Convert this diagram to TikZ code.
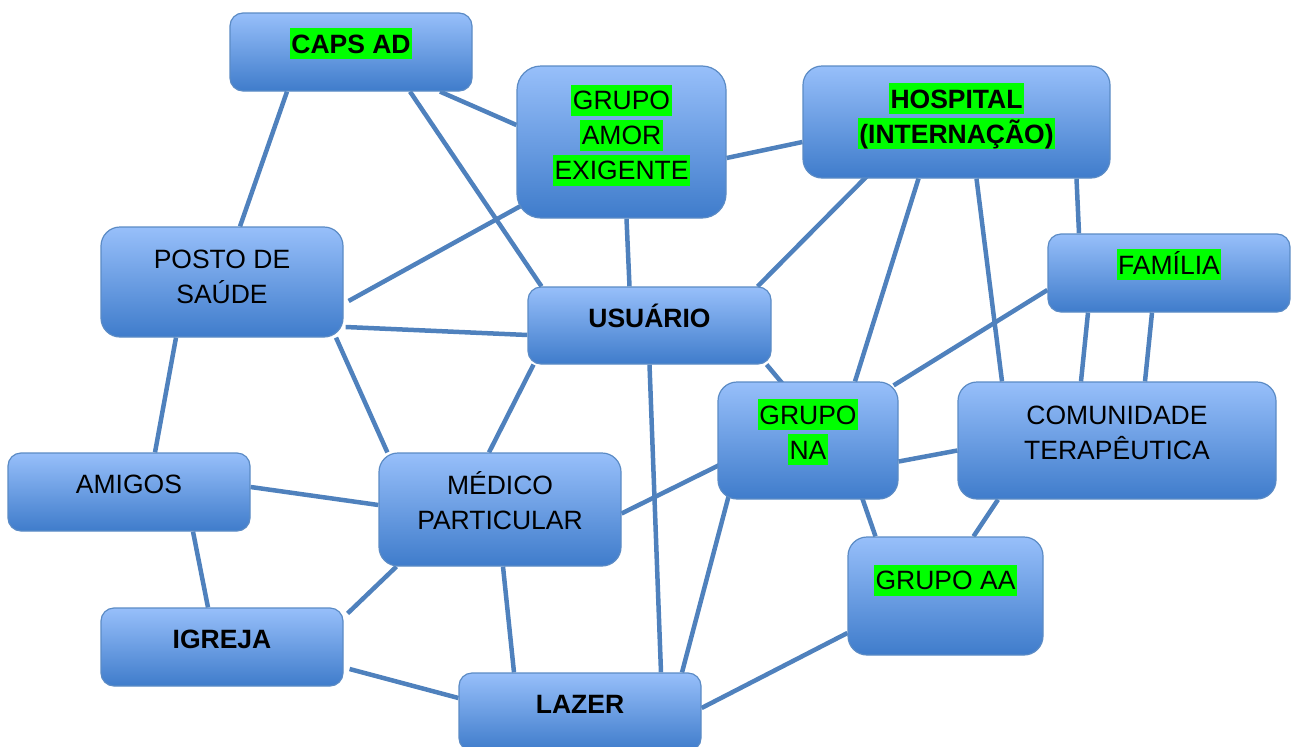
\documentclass[tikz,border=0pt]{standalone}
\usepackage{fontspec}
\setmainfont{Liberation Sans}
\usepackage{xcolor}
\usepackage{tikz}
\usetikzlibrary{backgrounds}

\definecolor{boxtop}{HTML}{97BFFA}
\definecolor{boxbot}{HTML}{3F7CCB}
\definecolor{boxline}{HTML}{5B8BC5}
\definecolor{linkblue}{HTML}{4F81BD}
\definecolor{hlgreen}{HTML}{00FF00}
\newcommand{\hl}[1]{{\setlength{\fboxsep}{0pt}\colorbox{hlgreen}{\rule[-6pt]{0pt}{31pt}\kern1.5pt#1\kern1.5pt}}}
\newcommand{\pl}[1]{\rule[-6pt]{0pt}{31pt}#1}

\begin{document}
\begin{tikzpicture}[x=1pt, y=-1pt,
  box/.style={draw=boxline, line width=1.2pt, top color=boxtop, bottom color=boxbot, inner sep=0pt, minimum width=242pt, minimum height=78pt, rounded corners=13pt},
  bigbox/.style={box, rounded corners=19pt},
  txt/.style={font=\fontsize{26.5}{35}\selectfont, align=center, inner sep=0pt},
  link/.style={draw=linkblue, line width=4.5pt}]
\useasboundingbox (0,0) rectangle (1291,747);

\node[box] (caps) at (351,52) {};
\node[bigbox, minimum width=209pt, minimum height=152pt, rounded corners=24pt] (amor) at (621.5,142) {};
\node[bigbox, minimum width=307pt, minimum height=112pt] (hosp) at (956.5,122) {};
\node[box] (fam) at (1169,273) {};
\node[bigbox, minimum height=110pt] (posto) at (222,282) {};
\node[box, minimum width=243pt, minimum height=77pt] (usu) at (649.5,325.5) {};
\node[bigbox, minimum width=180pt, minimum height=117pt] (na) at (808,440.5) {};
\node[bigbox, minimum width=318pt, minimum height=117pt] (com) at (1117,440.5) {};
\node[box] (amigos) at (129,492) {};
\node[bigbox, minimum height=113pt] (medico) at (500,509.5) {};
\node[bigbox, minimum width=195pt, minimum height=118pt] (aa) at (945.5,596) {};
\node[box] (igreja) at (222,647) {};
\node[box] (lazer) at (580,712) {};

\node[txt] (capsT) at ([yshift=8.5pt]caps.center) {\hl{\textbf{CAPS AD}}};
\node[txt] (amorT) at ([yshift=7pt]amor.center) {\hl{GRUPO}\\\hl{AMOR}\\\hl{EXIGENTE}};
\node[txt] (hospT) at ([yshift=6pt]hosp.center) {\hl{\textbf{HOSPITAL}}\\\hl{\textbf{(INTERNAÇÃO)}}};
\node[txt] (famT) at ([yshift=8.5pt]fam.center) {\hl{FAMÍLIA}};
\node[txt] (postoT) at ([yshift=6pt]posto.center) {\pl{POSTO DE}\\\pl{SAÚDE}};
\node[txt] (usuT) at ([yshift=7.5pt]usu.center) {\pl{\textbf{USUÁRIO}}};
\node[txt] (naT) at ([yshift=8.5pt]na.center) {\hl{GRUPO}\\\hl{NA}};
\node[txt] (comT) at ([yshift=8.5pt]com.center) {\pl{COMUNIDADE}\\\pl{TERAPÊUTICA}};
\node[txt] (amigosT) at ([yshift=8.5pt]amigos.center) {\pl{AMIGOS}};
\node[txt] (medicoT) at ([yshift=7.5pt]medico.center) {\pl{MÉDICO}\\\pl{PARTICULAR}};
\node[txt] (aaT) at ([yshift=16pt]aa.center) {\hl{GRUPO AA}};
\node[txt] (igrejaT) at ([yshift=8.5pt]igreja.center) {\pl{\textbf{IGREJA}}};
\node[txt] (lazerT) at ([yshift=8.5pt]lazer.center) {\pl{\textbf{LAZER}}};

\begin{scope}[on background layer]
\draw[link] ([xshift=-64pt]caps.south) -- ([xshift=18pt]posto.north);
\draw[link] ([xshift=59pt]caps.south) -- ([xshift=-108pt]usu.north);
\draw[link] ([xshift=89pt]caps.south) -- ([yshift=17pt]amor.west);
\draw[link] ([yshift=-16pt]amor.east) -- ([yshift=-20pt]hosp.west);
\draw[link] ([xshift=5pt,yshift=13pt]amor.south west) -- ([xshift=5pt,yshift=-19pt]posto.east);
\draw[link] ([xshift=5pt]amor.south) -- ([xshift=-20pt]usu.north);
\draw[link] ([xshift=-89pt,yshift=3pt]hosp.south) -- ([xshift=-14pt]usu.north east);
\draw[link] ([xshift=-38pt]hosp.south) -- ([xshift=47pt]na.north);
\draw[link] ([xshift=20pt]hosp.south) -- ([xshift=-115pt]com.north);
\draw[link] ([xshift=120pt]hosp.south) -- ([xshift=-90pt]fam.north);
\draw[link] ([yshift=-17pt]fam.west) -- ([xshift=-5pt,yshift=-4pt]na.north east);
\draw[link] ([xshift=-81pt]fam.south) -- ([xshift=-36pt]com.north);
\draw[link] ([xshift=-17pt]fam.south) -- ([xshift=28pt]com.north);
\draw[link] ([xshift=2pt,yshift=-45pt]posto.east) -- ([yshift=-9.5pt]usu.west);
\draw[link] ([xshift=-46pt]posto.south) -- ([xshift=26pt]amigos.north);
\draw[link] ([xshift=114pt]posto.south) -- ([xshift=9pt]medico.north west);
\draw[link] ([xshift=-116pt]usu.south) -- ([xshift=-11pt]medico.north);
\draw[link] (usu.south) -- ([xshift=81pt]lazer.north);
\draw[link] ([xshift=-5pt]usu.south east) -- ([xshift=-24pt,yshift=-4pt]na.north);
\draw[link] ([xshift=5pt,yshift=-23pt]na.west) -- ([yshift=-4pt]medico.east);
\draw[link] ([yshift=-21pt]na.east) -- ([yshift=-10pt]com.west);
\draw[link] ([xshift=53pt,yshift=5pt]na.south) -- ([xshift=-70pt]aa.north);
\draw[link] ([xshift=14pt,yshift=14pt]na.south west) -- ([xshift=102pt]lazer.north);
\draw[link] ([xshift=-119pt]com.south) -- ([xshift=28pt]aa.north);
\draw[link] ([yshift=5pt]amigos.east) -- ([yshift=4.5pt]medico.west);
\draw[link] ([xshift=64pt]amigos.south) -- ([xshift=-14pt]igreja.north);
\draw[link] ([xshift=18pt]medico.south west) -- ([xshift=4pt,yshift=-6pt]igreja.north east);
\draw[link] ([xshift=3pt]medico.south) -- ([xshift=-66pt]lazer.north);
\draw[link] ([xshift=6pt,yshift=-22pt]igreja.east) -- ([yshift=14pt]lazer.west);
\draw[link] ([yshift=-37pt]aa.west) -- ([yshift=4pt]lazer.east);
\end{scope}

\end{tikzpicture}
\end{document}
